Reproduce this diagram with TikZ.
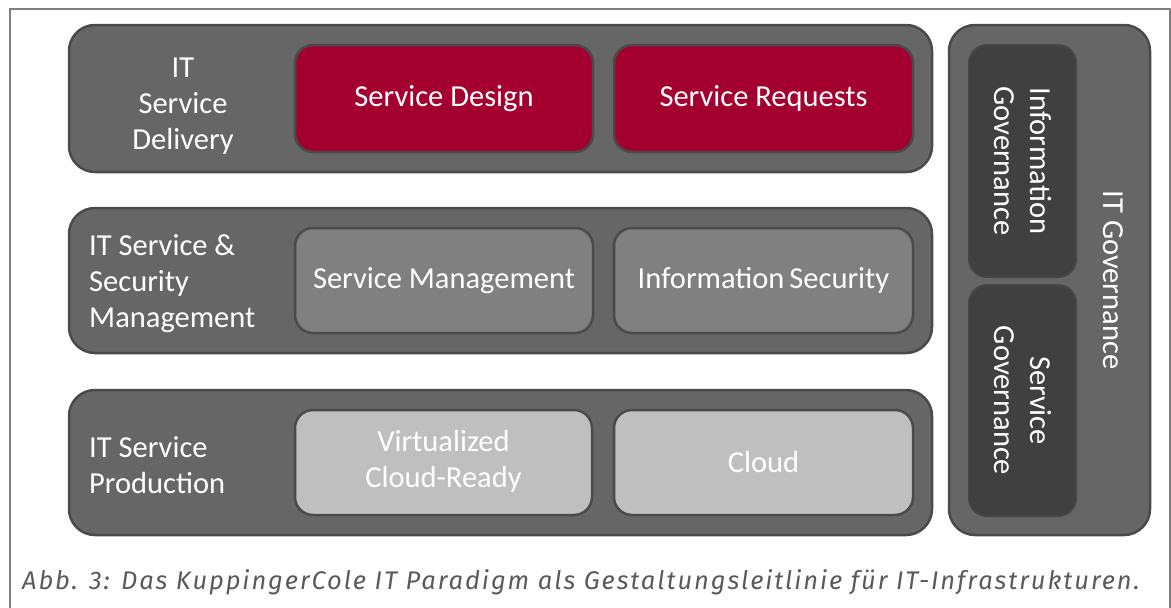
\documentclass[tikz,border=0pt]{standalone}
\usepackage{fontspec}
\setmainfont{Carlito}
\newfontfamily\capfont{Fira Sans}[LetterSpace=7.5]
\definecolor{rowfill}{HTML}{666666}
\definecolor{rowline}{HTML}{4A4A4A}
\definecolor{redfill}{HTML}{A30030}
\definecolor{midfill}{HTML}{808080}
\definecolor{lowfill}{HTML}{BFBFBF}
\definecolor{govfill}{HTML}{404040}
\definecolor{framecol}{HTML}{808080}
\definecolor{capcol}{HTML}{5A5A5A}
\tikzset{
  rowbox/.style={draw=rowline,line width=2.5pt,fill=rowfill,rounded corners=26pt,inner sep=0pt},
  innerbox/.style={draw=rowline,line width=2.5pt,rounded corners=18pt,inner sep=0pt,text=white,align=center,font=\fontsize{30.5}{36}\selectfont},
  govbox/.style={draw=govfill!85!rowfill,line width=2pt,fill=govfill,rounded corners=18pt,inner sep=0pt},
  lbl/.style={text=white,font=\fontsize{30.5}{36}\selectfont,inner sep=0pt},
}
\begin{document}
\begin{tikzpicture}[x=1pt,y=-1pt]
\useasboundingbox (0,0) rectangle (1171,608);
\fill[white] (0,0) rectangle (1171,608);
% frame
\draw[framecol,line width=2pt] (10,610) -- (10,9) -- (1170,9) -- (1170,610);
% rows
\node[rowbox,minimum width=863pt,minimum height=147pt] (r1) at (500.5,98.5) {};
\node[rowbox,minimum width=863pt,minimum height=145pt] (r2) at (500.5,280.5) {};
\node[rowbox,minimum width=863pt,minimum height=145pt] (r3) at (500.5,462.5) {};
\node[rowbox,minimum width=201pt,minimum height=510pt] (gov) at (1049.5,280) {};
% row labels
\node[lbl,align=center] (l1) at (183,106) {IT\\Service\\Delivery};
\node[lbl,align=left,anchor=west] (l2) at (89,284) {IT Service \&\\Security\\Management};
\node[lbl,align=left,anchor=west] (l3) at (89,465) {IT Service\\Production};
% inner boxes
\node[innerbox,fill=redfill,minimum width=298pt,minimum height=107pt] (sd) at (444,98.5) {\raisebox{-2pt}{Service Design}};
\node[innerbox,fill=redfill,minimum width=299pt,minimum height=107pt] (sr) at (763.5,98.5) {\raisebox{-2pt}{Service Requests}};
\node[innerbox,fill=midfill,minimum width=298pt,minimum height=105pt] (sm) at (444,280.5) {\raisebox{-2pt}{Service Management}};
\node[innerbox,fill=midfill,minimum width=299pt,minimum height=105pt] (is) at (763.5,280.5) {\raisebox{-2pt}{Information\,Security}};
\node[innerbox,fill=lowfill,minimum width=297pt,minimum height=105pt] (vc) at (443.5,462.5) {\raisebox{-3pt}{\begin{tabular}{@{}c@{}}Virtualized\\Cloud-Ready\end{tabular}}};
\node[innerbox,fill=lowfill,minimum width=299pt,minimum height=105pt] (cl) at (763.5,462.5) {\raisebox{-2pt}{Cloud}};
% governance
\node[govbox,minimum width=107pt,minimum height=232pt] (ig) at (1022.5,161) {};
\node[govbox,minimum width=107pt,minimum height=231pt] (sg) at (1022.5,400.5) {};
\node[lbl,align=center,rotate=-90] (igt) at (ig.center) {Information\\Governance};
\node[lbl,align=center,rotate=-90] (sgt) at (sg.center) {Service\\Governance};
\node[lbl,rotate=-90] (itg) at (1113,280) {IT Governance};
% caption
\node[anchor=base west,inner sep=0pt,text=capcol,font=\capfont\itshape\fontsize{25.5}{28}\selectfont] (cap) at (22,589) {Abb. 3: Das KuppingerCole IT Paradigm als Gestaltungsleitlinie für IT-Infrastrukturen.};
\end{tikzpicture}
\end{document}
